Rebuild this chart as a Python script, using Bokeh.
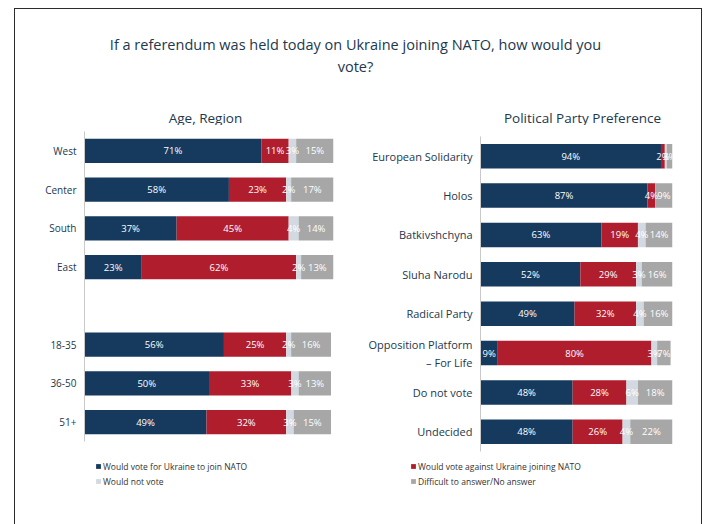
from bokeh.plotting import figure
from bokeh.models import ColumnDataSource, FactorRange, Range1d, Legend, LegendItem
from bokeh.layouts import column, row
from bokeh.embed import file_html
from bokeh.resources import INLINE
from bokeh.core.properties import value

# ---------------- data ----------------
title_lines = ["If a referendum was held today on Ukraine joining NATO, how would you", "vote?"]
series = ["Would vote for Ukraine to join NATO", "Would vote against Ukraine joining NATO",
          "Would not vote", "Difficult to answer/No answer"]
colors = ["#163a5e", "#b01e2e", "#d3d9e1", "#a7a7a7"]

left_title = "Age, Region"
left_cats = ["West", "Center", "South", "East", "18-35", "36-50", "51+"]
left_for = [71, 58, 37, 23, 56, 50, 49]
left_against = [11, 23, 45, 62, 25, 33, 32]
left_novote = [3, 2, 4, 2, 2, 3, 3]
left_dk = [15, 17, 14, 13, 16, 13, 15]
left_factors = ["51+", "36-50", "18-35", " ", "East", "South", "Center", "West"]

right_title = "Political Party Preference"
right_cats = ["European Solidarity", "Holos", "Batkivshchyna", "Sluha Narodu", "Radical Party",
              "Opposition Platform\n\u2013 For Life", "Do not vote", "Undecided"]
right_for = [94, 87, 63, 52, 49, 9, 48, 48]
right_against = [2, 4, 19, 29, 32, 80, 28, 26]
right_novote = [1, 0, 4, 3, 4, 3, 6, 4]
right_dk = [3, 9, 14, 16, 16, 7, 18, 22]

FONT = "Open Sans"
TXT = "#22384d"
keys = ["v_for", "v_against", "v_novote", "v_dk"]


def panel(cats, factors, vals, width, height, bl, br, bt, bb, label_size):
    data = {"cat": cats}
    for k, v in zip(keys, vals):
        data[k] = v
    src = ColumnDataSource(data)
    p = figure(y_range=FactorRange(factors=factors), x_range=Range1d(0, 100),
               width=width, height=height, output_backend="svg", toolbar_location=None,
               min_border_left=bl, min_border_right=br, min_border_top=bt, min_border_bottom=bb)
    p.hbar_stack(keys, y="cat", height=0.62, color=colors, source=src, line_color=None)
    xs, ys, txt = [], [], []
    for i, c in enumerate(cats):
        acc = 0
        for j in range(4):
            v = vals[j][i]
            if v >= 2:
                xs.append(acc + v / 2)
                ys.append(c)
                txt.append(f"{v}%")
            acc += v
    p.text(x=xs, y=ys, text=txt, text_color="white", text_font=value(FONT),
           text_font_size="9.5px", text_align="center", text_baseline="middle")
    p.xaxis.visible = False
    p.xgrid.grid_line_color = None
    p.ygrid.grid_line_color = None
    p.outline_line_color = None
    p.yaxis.axis_line_color = "#c9c9c9"
    p.yaxis.major_tick_line_color = None
    p.yaxis.minor_tick_line_color = None
    p.yaxis.major_tick_out = 0
    p.yaxis.major_tick_in = 0
    p.yaxis.major_label_standoff = 8
    p.yaxis.major_label_text_font = FONT
    p.yaxis.major_label_text_font_size = label_size
    p.yaxis.major_label_text_color = TXT
    return p


left = panel(left_cats, left_factors,
             [left_for, left_against, left_novote, left_dk],
             330, 320, 69, 12, 6, 4, "10px")
right = panel(right_cats, right_cats[::-1],
              [right_for, right_against, right_novote, right_dk],
              356, 325, 135, 29, 6, 4, "11px")
right.margin = (5, 0, 0, 0)

# title figure (main title + panel subtitles)
top = figure(width=686, height=116, x_range=Range1d(0, 686), y_range=Range1d(116, 0),
             output_backend="svg", toolbar_location=None, min_border=0)
top.text(x=[340, 340], y=[35, 57], text=title_lines, text_align="center",
         text_baseline="middle", text_font=value(FONT), text_font_size="14.5px", text_color=TXT)
top.text(x=[190, 567], y=[108, 108], text=[left_title, right_title], text_align="center",
         text_baseline="middle", text_font=value(FONT), text_font_size="13.5px", text_color=TXT)
top.axis.visible = False
top.grid.grid_line_color = None
top.outline_line_color = None

# legend figure
leg = figure(width=686, height=69, x_range=Range1d(0, 1), y_range=Range1d(0, 1),
             output_backend="svg", toolbar_location=None, min_border=0)
leg.axis.visible = False
leg.grid.grid_line_color = None
leg.outline_line_color = None
# legend-only renderers: zero-length bars placed outside the visible range
rs = [leg.hbar(y=[-5], left=[0], right=[0], height=0.1, color=c, line_color=None) for c in colors]


def mk_legend(idx, loc):
    lg = Legend(items=[LegendItem(label=series[i], renderers=[rs[i]]) for i in idx], location=loc)
    lg.border_line_color = None
    lg.background_fill_alpha = 0
    lg.label_text_font = FONT
    lg.label_text_font_size = "8.5px"
    lg.label_text_color = "#333333"
    lg.glyph_width = 6
    lg.glyph_height = 6
    lg.label_height = 12
    lg.spacing = 3
    lg.padding = 0
    lg.margin = 0
    lg.label_standoff = 2
    return lg


leg.add_layout(mk_legend([0, 2], (80, 37)))
leg.add_layout(mk_legend([1, 3], (395, 37)))

page = column(top, row(column(left), column(right), spacing=0), leg, spacing=0,
              styles={"border": "1px solid #2b2b2b", "border-bottom": "none",
                      "margin-left": "14px", "margin-top": "8px"})

open("out.html", "w").write(file_html(page, INLINE))
